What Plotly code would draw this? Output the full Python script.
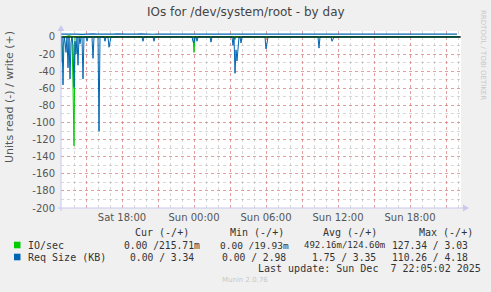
import datetime as dt
import plotly.graph_objects as go

# ---------------- data ----------------
start = dt.datetime(2025, 12, 6, 12, 55)
n_samples = 400          # 5-minute samples
step_min = 5

# sparse read spikes: (sample index, value) ; all other samples read 0
req_read_spikes = [(0, -13), (2, -56), (4, -5), (5, -18), (7, -36), (9, -49), (10, -6),
                   (12, -10), (13, -59), (14, -5), (15, -20), (17, -33), (19, -8),
                   (22, -49), (26, -5), (32, -25), (38, -110.26), (44, -5), (48, -12),
                   (49, -3), (82, -5), (93, -5), (132, -5), (133, -7), (136, -5),
                   (150, -6), (172, -10), (174, -42.5), (175, -15), (176, -28), (177, -8),
                   (180, -7), (205, -14), (206, -5), (258, -13), (271, -5), (272, -3)]
io_read_spikes = [(1, -29), (2, -10), (3, -5), (12, -58), (13, -127.34),
                  (133, -18), (174, -3), (275, -1)]

# write values, one every 20 minutes
write_step_min = 20
req_write = [3.3, 3.5, 3.2, 3.6, 3.4, 3.1, 3.5, 3.3, 3.6, 3.4, 3.2, 3.5, 3.4, 3.3, 3.6,
             3.2, 3.4, 3.5, 3.1, 3.4, 3.6, 3.3, 3.5, 3.2, 3.4, 3.4, 3.6, 3.3, 3.5, 3.2,
             3.4, 3.6, 3.3, 3.4, 3.5, 3.2, 3.4, 3.6, 3.3, 3.5, 3.4, 3.2, 3.5, 3.4, 3.3,
             3.5, 3.6, 3.3, 3.4, 3.2, 3.5, 3.4, 3.3, 3.6, 3.4, 3.2, 3.5, 3.3, 3.4, 3.6,
             3.3, 3.5, 3.2, 3.4, 3.5, 3.3, 3.6, 3.4, 3.2, 3.5, 3.3, 3.4, 3.6, 3.2, 3.5,
             3.3, 3.4, 3.5, 3.2, 3.6, 3.4, 3.3, 3.5, 3.2, 3.4, 3.6, 3.3, 3.5, 3.1, 3.3,
             3.2, 3.5, 3.1, 3.4, 3.2, 3.5, 3.6, 3.4, 3.3, 3.34]
io_write = [0.2, 0.3, 1.5, 0.2, 0.1, 0.15, 0.1, 0.12, 0.1, 0.15, 0.1, 0.12, 0.1, 0.1, 0.12,
            0.1, 0.1, 0.12, 0.1, 0.1, 0.1, 0.12, 0.1, 0.1, 0.1, 0.1, 0.12, 0.1, 0.1, 0.1,
            0.1, 0.12, 0.1, 0.1, 0.1, 0.1, 0.1, 0.12, 0.1, 0.1, 0.1, 0.12, 0.1, 0.1, 0.2,
            0.1, 0.1, 0.1, 0.12, 0.1, 0.1, 0.1, 0.1, 0.12, 0.1, 0.1, 0.1, 0.1, 0.12, 0.1,
            0.1, 0.1, 0.12, 0.1, 0.1, 0.1, 0.1, 0.12, 0.1, 0.1, 0.1, 0.1, 0.12, 0.1, 0.1,
            0.1, 0.12, 0.1, 0.1, 0.1, 0.1, 0.12, 0.1, 0.1, 0.1, 0.1, 0.12, 0.1, 0.1, 0.1,
            0.12, 0.1, 0.1, 0.1, 0.1, 0.12, 0.1, 0.1, 0.2, 0.2157]

title = "IOs for /dev/system/root - by day"
ylabel = "Units read (-) / write (+)"
series_names = ["IO/sec", "Req Size (KB)"]
series_colors = ["#00CC00", "#0066B3"]
col_headers = ["Cur (-/+)", "Min (-/+)", "Avg (-/+)", "Max (-/+)"]
row_values = [["0.00 /215.71m", "0.00 /19.93m", "492.16m/124.60m", "127.34 / 3.03"],
              ["0.00 / 3.34", "0.00 / 2.98", "1.75 / 3.35", "110.26 / 4.18"]]
last_update = "Last update: Sun Dec  7 22:05:02 2025"
y_ticks = list(range(-200, 1, 20))

# ---------------- build series ----------------
times = [start + dt.timedelta(minutes=step_min * i) for i in range(n_samples)]
wtimes = [start + dt.timedelta(minutes=write_step_min * i) for i in range(len(req_write))]


def expand(spikes):
    vals = [0.0] * n_samples
    for i, v in spikes:
        vals[i] = v
    return vals


io_read = expand(io_read_spikes)
req_read = expand(req_read_spikes)

W, H = 491, 292
L, R, T, B = 61, 461, 31, 208


def px(x):
    return (x - L) / (R - L)


def py(y):
    return (B - y) / (B - T)


fig = go.Figure()
fig.add_trace(go.Scatter(x=times, y=io_read, mode="lines",
                         line=dict(color=series_colors[0], width=1), showlegend=False))
fig.add_trace(go.Scatter(x=wtimes, y=io_write, mode="lines",
                         line=dict(color=series_colors[0], width=1), showlegend=False))
fig.add_trace(go.Scatter(x=times, y=req_read, mode="lines",
                         line=dict(color=series_colors[1], width=1), showlegend=False))
fig.add_trace(go.Scatter(x=wtimes, y=req_write, mode="lines",
                         line=dict(color=series_colors[1], width=1.2), showlegend=False))

xstart = start
xend = start + dt.timedelta(minutes=step_min * n_samples)
major = []
t = dt.datetime(2025, 12, 6, 15, 0)
while t < xend:
    major.append(t)
    t += dt.timedelta(hours=3)
ticktext = [m.strftime("%a %H:%M") if m.hour % 6 == 0 else "" for m in major]

red = "rgba(240,80,80,0.42)"
gray = "rgba(160,160,160,0.42)"
fontc = "#555555"

fig.update_xaxes(range=[xstart, xend], tickmode="array", tickvals=major, ticktext=ticktext,
                 showgrid=True, gridcolor=red, griddash="dot", gridwidth=1,
                 ticks="", showline=False, zeroline=False, ticklabelstandoff=2,
                 tickfont=dict(family="DejaVu Sans", size=10, color=fontc),
                 minor=dict(dtick=3600000, tick0="2025-12-06 13:00", showgrid=True,
                            gridcolor=gray, griddash="dot", gridwidth=1))
fig.update_yaxes(range=[-200, 7], tickmode="array", tickvals=y_ticks,
                 ticktext=[str(v) for v in y_ticks],
                 showgrid=True, gridcolor=red, griddash="dot", gridwidth=1,
                 ticks="", showline=False, zeroline=False, ticklabelstandoff=5,
                 tickfont=dict(family="DejaVu Sans", size=10, color=fontc),
                 minor=dict(dtick=10, tick0=0, showgrid=True, gridcolor=gray,
                            griddash="dot", gridwidth=1))

axc = "#C8C8F0"
shapes = [
    # zero line
    dict(type="line", xref="x", yref="y", x0=xstart, x1=xend, y0=0, y1=0,
         line=dict(color="black", width=1), layer="above"),
    # axes
    dict(type="line", xref="paper", yref="paper", x0=px(61), x1=px(61), y0=py(211), y1=py(29),
         line=dict(color=axc, width=1), layer="above"),
    dict(type="line", xref="paper", yref="paper", x0=px(58), x1=px(465), y0=py(208), y1=py(208),
         line=dict(color=axc, width=1), layer="above"),
    dict(type="path", xref="paper", yref="paper", fillcolor=axc, line=dict(width=0),
         path=f"M {px(57.5)} {py(31)} L {px(64.5)} {py(31)} L {px(61)} {py(25)} Z", layer="above"),
    dict(type="path", xref="paper", yref="paper", fillcolor=axc, line=dict(width=0),
         path=f"M {px(463)} {py(204.5)} L {px(463)} {py(211.5)} L {px(469)} {py(208)} Z", layer="above"),
]

ann = []


def text(x, y, s, size=10, color="#333333", family="DejaVu Sans Mono", xanchor="left", angle=0):
    ann.append(dict(x=px(x), y=py(y), xref="paper", yref="paper", text=s, showarrow=False,
                    xanchor=xanchor, yanchor="middle", textangle=angle,
                    font=dict(family=family, size=size, color=color)))


text(246, 12, title, size=12, color="#444444", family="DejaVu Sans", xanchor="center")
text(9, 97, ylabel, size=11, color=fontc, family="DejaVu Sans", xanchor="center", angle=-90)
text(483, 55, "RRDTOOL / TOBI OETIKER", size=7, color="#C8C8C8", family="DejaVu Sans",
     xanchor="center", angle=90)

row_y = [245, 257]
hy = 232
for h, x in zip(col_headers, [133, 228, 321, 417]):
    text(x, hy, h)
for k, name in enumerate(series_names):
    shapes.append(dict(type="rect", xref="paper", yref="paper",
                       x0=px(14), x1=px(20.5), y0=py(row_y[k] - 3.3), y1=py(row_y[k] + 3.3),
                       fillcolor=series_colors[k], line=dict(width=0)))
    text(26, row_y[k], name)

# row values (right-aligned columns, as in the reference)
col_right = [[202, 291, 387, 470], [196, 288, 378, 470]]
sizes = [[9.7, 9.5, 9.0, 9.7], [9.7, 9.7, 9.7, 9.7]]
for k in range(2):
    for j in range(4):
        text(col_right[k][j], row_y[k], row_values[k][j], xanchor="right", size=sizes[k][j])
text(256, 268, last_update)
text(245, 280, "Munin 2.0.76", size=7, color="#C8C8C8", family="DejaVu Sans", xanchor="center")

fig.update_layout(width=W, height=H, margin=dict(l=L, r=W - R, t=T, b=H - B, pad=0),
                  paper_bgcolor="#F0F0F0", plot_bgcolor="white",
                  shapes=shapes, annotations=ann, showlegend=False)

fig.write_html("out.html", config={"displayModeBar": False})
